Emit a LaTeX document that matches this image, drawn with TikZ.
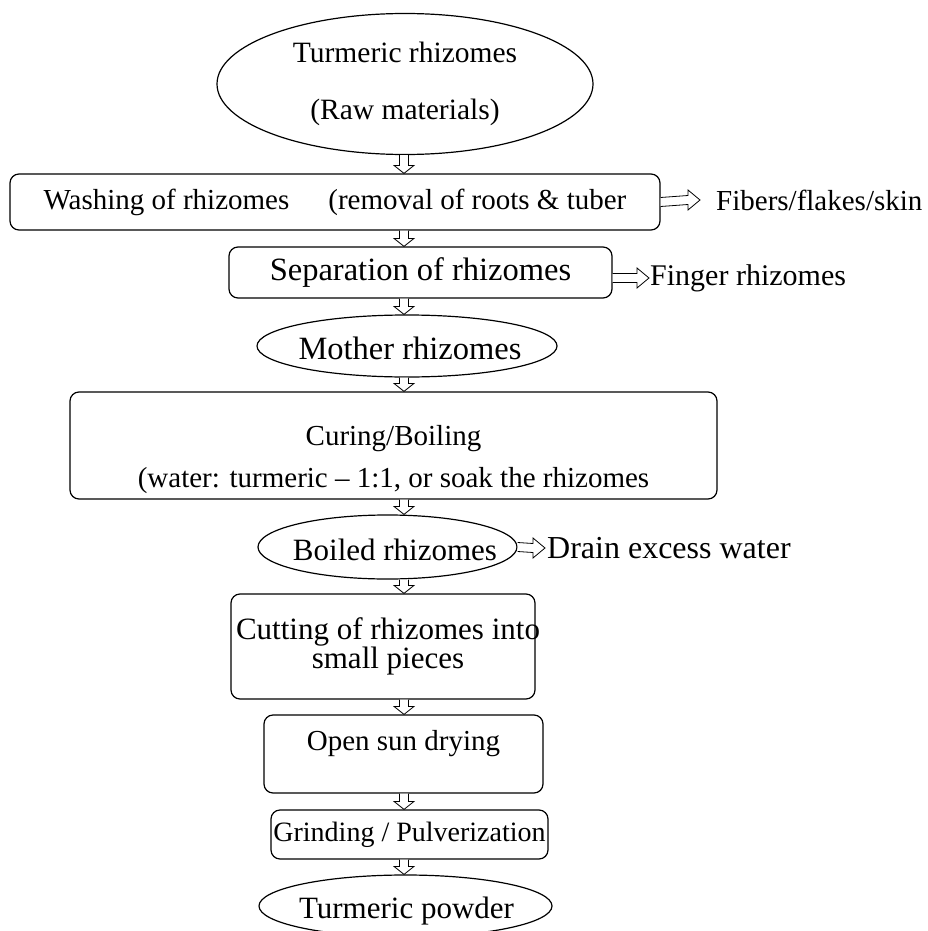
\documentclass[tikz,border=0pt]{standalone}
\usepackage{fontspec}
\setmainfont{Liberation Serif}
\usetikzlibrary{shapes.geometric,calc}

\begin{document}
\begin{tikzpicture}[x=1pt, y=-1pt,
  stepbox/.style={draw, rounded corners=9pt, line width=1.2pt, inner sep=0pt},
  stepoval/.style={draw, ellipse, line width=1.2pt, inner sep=0pt},
  txt/.style={font=\fontsize{29}{34}\selectfont, inner sep=0pt},
  bigtxt/.style={font=\fontsize{32.5}{36}\selectfont, inner sep=0pt},
  hollow/.style={draw, line width=0.8pt, fill=white}]
  \newcommand{\DownArrow}[2]{%
    \draw[hollow] ($(#1)+(-4.5,0)$) -- ($(#2)+(-4.5,-8)$) -- ($(#2)+(-10,-8)$) -- (#2)
      -- ($(#2)+(10,-8)$) -- ($(#2)+(4.5,-8)$) -- ($(#1)+(4.5,0)$);%
  }
  \newcommand{\RightArrow}[2]{%
    \draw[hollow] ($(#1)+(0,-4.5)$) -- ($(#2)+(-12,-4.5)$) -- ($(#2)+(-12,-10)$) -- (#2)
      -- ($(#2)+(-12,10)$) -- ($(#2)+(-12,4.5)$) -- ($(#1)+(0,4.5)$);%
  }
  \useasboundingbox (0,0) rectangle (927,931);
  \coordinate (spine) at (404,0);

  % main column
  \node[stepoval, minimum width=376pt, minimum height=141pt, align=center,
    font=\fontsize{29.5}{57}\selectfont] (raw) at (405,84) {Turmeric rhizomes\\(Raw materials)};
  \node[stepbox, txt, minimum width=650pt, minimum height=56pt] (wash) at (335,202)
    {Washing of rhizomes\hspace{39pt}(removal of roots \& tuber};
  \node[stepbox, bigtxt, minimum width=383pt, minimum height=51pt] (sep) at (420.5,272.5) {Separation of rhizomes};
  \node[stepoval, minimum width=300pt, minimum height=62pt] (mother) at (407,346) {};
  \node[bigtxt] (mothertext) at (410,348) {Mother rhizomes};
  \node[stepbox, minimum width=647pt, minimum height=107pt] (cure) at (393.5,445.5) {};
  \node[txt, align=center, font=\fontsize{29}{42}\selectfont] (curetext) at (393.5,460)
    {Curing/Boiling\\(water: turmeric – 1:1, or soak the rhizomes};
  \node[stepoval, minimum width=259pt, minimum height=64pt] (boiled) at (387.5,547) {};
  \node[txt, font=\fontsize{31}{34}\selectfont] (boiledtext) at (395,550) {Boiled rhizomes};
  \node[stepbox, minimum width=304pt, minimum height=105pt] (cut) at (383,646.5) {};
  \node[inner sep=0pt, align=center, font=\fontsize{31}{29}\selectfont] (cuttext) at (388,646)
    {Cutting of rhizomes into\\small pieces};
  \node[stepbox, minimum width=279pt, minimum height=78pt] (sun) at (403.5,754) {};
  \node[txt] (suntext) at (403.5,744) {Open sun drying};
  \node[stepbox, minimum width=277pt, minimum height=49pt, font=\fontsize{28}{32}\selectfont] (grind) at (409.5,834.5)
    {Grinding / Pulverization};
  \node[stepoval, minimum width=293pt, minimum height=62pt] (powder) at (405.5,906) {};
  \node[txt, font=\fontsize{31}{34}\selectfont] (powdertext) at (406.5,911) {Turmeric powder};

  % side outputs
  \node[txt, anchor=west] (fibers) at (716,200) {Fibers/flakes/skin};
  \node[txt, font=\fontsize{30}{34}\selectfont, anchor=west] (finger) at (650,278) {Finger rhizomes};
  \node[txt, font=\fontsize{32}{34}\selectfont, anchor=west] (drain) at (547,548) {Drain excess water};

  % arrows
  \DownArrow{spine |- raw.south}{spine |- wash.north}
  \DownArrow{spine |- wash.south}{spine |- sep.north}
  \DownArrow{spine |- sep.south}{spine |- mother.north}
  \DownArrow{spine |- mother.south}{spine |- cure.north}
  \DownArrow{spine |- cure.south}{spine |- boiled.north}
  \DownArrow{spine |- boiled.south}{spine |- cut.north}
  \DownArrow{spine |- cut.south}{spine |- sun.north}
  \DownArrow{spine |- sun.south}{spine |- grind.north}
  \DownArrow{spine |- grind.south}{spine |- powder.north}
  \RightArrow{wash.east}{[xshift=-16pt]fibers.west}
  \RightArrow{sep.east |- finger.west}{[xshift=-1pt]finger.west}
  \RightArrow{boiled.east}{[xshift=-2pt]drain.west}

\end{tikzpicture}
\end{document}
